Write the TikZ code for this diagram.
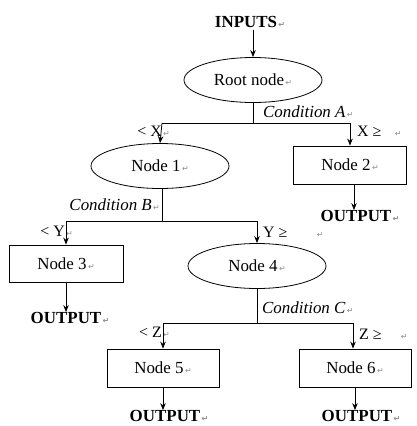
\documentclass[tikz,border=0pt]{standalone}
\usepackage{fontspec}
\setmainfont{Liberation Serif}
\newfontfamily\symf{DejaVu Sans}
\usetikzlibrary{shapes.geometric,arrows.meta}
\newcommand\ret{{\symf\fontsize{8}{8}\selectfont\color{black!45}\,↵}}
\begin{document}
\begin{tikzpicture}[x=1bp,y=-1bp,
  every node/.style={font=\fontsize{17}{20}\selectfont, inner sep=0pt},
  ell/.style={draw, ellipse, line width=0.8pt, minimum width=138bp, minimum height=45bp},
  boxnode/.style={draw, rectangle, line width=0.8pt, minimum width=113bp, minimum height=38bp},
  lbl/.style={font=\fontsize{16}{20}\selectfont},
  cond/.style={font=\fontsize{17}{20}\selectfont\itshape},
  outtxt/.style={font=\fontsize{17}{20}\selectfont\bfseries},
  conn/.style={line width=0.8pt},
  arr/.style={line width=0.8pt, -{Stealth[length=7bp,width=5.5bp]}}
]
\useasboundingbox (0,0) rectangle (417,426);
% nodes
\node[outtxt] (inp) at (250,22) {INPUTS\ret};
\node[ell] (root) at (253,80) {Root node\ret};
\node[ell] (n1) at (160,166) {Node 1\ret};
\node[boxnode] (n2) at (350,165) {Node 2\ret};
\node[boxnode, minimum width=114bp, minimum height=37bp] (n3) at (66,263.5) {Node 3\ret};
\node[ell] (n4) at (257,266) {Node 4\ret};
\node[boxnode, minimum width=112bp] (n5) at (163,368) {Node 5\ret};
\node[boxnode, minimum width=112bp] (n6) at (355,368) {Node 6\ret};
\node[outtxt] (o2) at (360,216) {OUTPUT\ret};
\node[outtxt] (o3) at (70,318) {OUTPUT\ret};
\node[outtxt] (o5) at (169,416) {OUTPUT\ret};
\node[outtxt] (o6) at (361,416) {OUTPUT\ret};
% junction coordinates
\coordinate (jA) at (253,123);
\coordinate (aL) at (162,123);
\coordinate (aR) at (350,123);
\coordinate (jB) at (162,221);
\coordinate (bL) at (66,221);
\coordinate (bR) at (257,221);
\coordinate (jC) at (257,323);
\coordinate (cL) at (163,323);
\coordinate (cR) at (353,323);
% labels
\node[cond, anchor=west] (ca) at (263,112) {Condition A\ret};
\node[cond, anchor=east] (cb) at (160,205) {Condition B\ret};
\node[cond, anchor=west] (cc) at (262,308) {Condition C\ret};
\node[lbl, anchor=east] (lx) at (170,131) {< X\ret};
\node[lbl, anchor=west] (gx) at (357,131) {X ≥\hspace{12bp}\ret};
\node[lbl, anchor=east] (ly) at (73,231) {< Y\ret};
\node[lbl, anchor=west] (gy) at (263,232) {Y ≥\hspace{28bp}\ret};
\node[lbl, anchor=east] (lz) at (170,332) {< Z\ret};
\node[lbl, anchor=west] (gz) at (359,334) {Z ≥\hspace{18bp}\ret};
% connectors
\draw[arr] (inp.south -| root.north) ++(0,2) coordinate (inb) (inb) -- (root.north);
\draw[conn] (root.south) -- (jA);
\draw[conn] (aL) -- (aR);
\draw[arr] (aL) -- (n1.north);
\draw[arr] (aR) -- (aR |- n2.north);
\draw[arr] (n2.south -| o2.north) ++(-6,0) coordinate (n2b) (n2b) -- (n2b |- o2.north);
\draw[conn] (n1.south -| jB) -- (jB);
\draw[conn] (bL) -- (bR);
\draw[arr] (bL) -- (n3.north);
\draw[arr] (bR) -- (n4.north);
\draw[arr] (n3.south) -- (n3.south |- o3.north);
\draw[conn] (n4.south) -- (jC);
\draw[conn] (cL) -- (cR);
\draw[arr] (cL) -- (n5.north);
\draw[arr] (cR) -- (cR |- n6.north);
\draw[arr] (n5.south) -- (n5.south |- o5.north);
\draw[arr] (n6.south) -- (n6.south |- o6.north);
\end{tikzpicture}
\end{document}
